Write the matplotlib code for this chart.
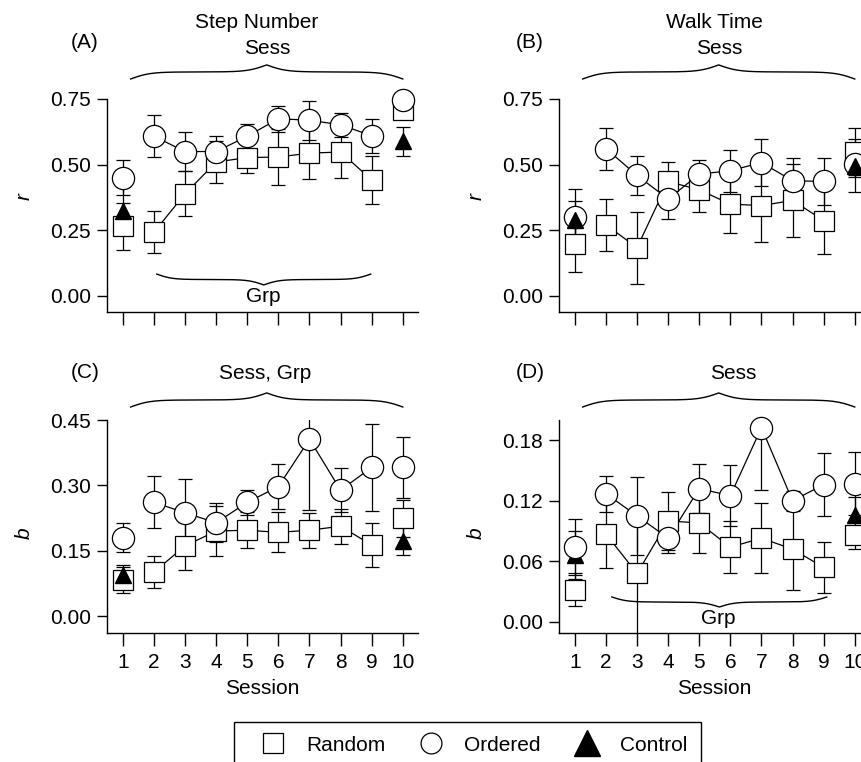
"""Four-panel session plot: r and b for step number / walk time,
Random vs Ordered groups with Control at sessions 1 and 10."""

import matplotlib
matplotlib.use("Agg")
import matplotlib.pyplot as plt
import numpy as np
from matplotlib.lines import Line2D

plt.rcParams["font.family"] = ["Liberation Sans", "DejaVu Sans"]
plt.rcParams["font.size"] = 15

sessions = np.arange(1, 11)
ctl_sessions = np.array([1, 10])

# (A) step number, r
step_r_rnd = [0.265, 0.243, 0.389, 0.51, 0.527, 0.529, 0.544, 0.548, 0.442, 0.709]
step_r_rnd_se = [0.09, 0.08, 0.085, 0.08, 0.06, 0.105, 0.10, 0.10, 0.09, 0.03]
step_r_ord = [0.451, 0.608, 0.550, 0.55, 0.608, 0.675, 0.669, 0.652, 0.61, 0.747]
step_r_ord_se = [0.065, 0.08, 0.075, 0.06, 0.045, 0.05, 0.075, 0.045, 0.065, 0.03]
step_r_ctl = [0.325, 0.589]
step_r_ctl_se = [0.09, 0.055]

# (B) walk time, r
walk_r_rnd = [0.197, 0.271, 0.184, 0.436, 0.404, 0.35, 0.344, 0.364, 0.287, 0.55]
walk_r_rnd_se = [0.105, 0.10, 0.137, 0.075, 0.085, 0.11, 0.14, 0.14, 0.127, 0.09]
walk_r_ord = [0.301, 0.561, 0.459, 0.369, 0.464, 0.477, 0.508, 0.439, 0.436, 0.502]
walk_r_ord_se = [0.105, 0.08, 0.075, 0.075, 0.055, 0.08, 0.09, 0.085, 0.09, 0.05]
walk_r_ctl = [0.29, 0.496]
walk_r_ctl_se = [0.07, 0.10]

# (C) step number, b
step_b_rnd = [0.082, 0.101, 0.161, 0.195, 0.197, 0.192, 0.197, 0.206, 0.163, 0.224]
step_b_rnd_se = [0.03, 0.037, 0.055, 0.057, 0.042, 0.046, 0.04, 0.04, 0.05, 0.043]
step_b_ord = [0.180, 0.261, 0.237, 0.214, 0.261, 0.297, 0.406, 0.289, 0.341, 0.341]
step_b_ord_se = [0.033, 0.06, 0.078, 0.045, 0.028, 0.052, 0.163, 0.05, 0.10, 0.071]
step_b_ctl = [0.094, 0.172]
step_b_ctl_se = [0.022, 0.033]

# (D) walk time, b
walk_b_rnd = [0.032, 0.087, 0.048, 0.100, 0.098, 0.074, 0.083, 0.072, 0.054, 0.086]
walk_b_rnd_se = [0.016, 0.034, 0.06, 0.029, 0.03, 0.026, 0.035, 0.04, 0.025, 0.014]
walk_b_ord = [0.074, 0.127, 0.105, 0.083, 0.132, 0.125, 0.1925, 0.120, 0.136, 0.137]
walk_b_ord_se = [0.028, 0.018, 0.039, 0.015, 0.024, 0.03, 0.062, 0.01, 0.031, 0.031]
walk_b_ctl = [0.066, 0.106]
walk_b_ctl_se = [0.024, 0.018]

r_ticks = [0.0, 0.25, 0.5, 0.75]
step_b_ticks = [0.0, 0.15, 0.30, 0.45]
walk_b_ticks = [0.0, 0.06, 0.12, 0.18]

LW = 0.9
W, H = 861, 762


def brace(ax, x0, x1, y_end, h, beta=14.0):
    """Curly brace between x0..x1 (data), y in axes fraction; h>0 points up."""
    u = np.linspace(0, 1, 200)
    half = 1 / (1 + np.exp(-beta * u)) + 1 / (1 + np.exp(-beta * (u - 1))) - 0.5
    half = (half - half[0]) / (half[-1] - half[0])
    shape = np.concatenate([half, half[-2::-1]])
    xs = np.linspace(x0, x1, len(shape))
    ax.plot(xs, y_end + h * shape, color="k", lw=1.0,
            transform=ax.get_xaxis_transform(), clip_on=False)


def panel(ax, rnd, rnd_se, ordd, ord_se, ctl, ctl_se, ylim, yticks, ylabel, ylab_y,
          xlabels, ctl_z=5):
    rnd, ordd = np.asarray(rnd), np.asarray(ordd)
    ek = dict(fmt="none", ecolor="k", elinewidth=LW, capsize=4.7, capthick=LW, zorder=1)
    ax.errorbar(sessions, rnd, yerr=rnd_se, **ek)
    ax.errorbar(sessions, ordd, yerr=ord_se, **ek)
    ax.errorbar(ctl_sessions, ctl, yerr=ctl_se, **ek)

    # sessions 2-9 are joined, 1 and 10 stand alone
    ax.plot(sessions[1:9], rnd[1:9], color="k", lw=LW, zorder=2)
    ax.plot(sessions[1:9], ordd[1:9], color="k", lw=LW, zorder=2)
    ax.plot(sessions, rnd, ls="none", marker="s", ms=14, mfc="white", mec="k",
            mew=LW, zorder=3, clip_on=False)
    ax.plot(sessions, ordd, ls="none", marker="o", ms=16, mfc="white", mec="k",
            mew=LW, zorder=4, clip_on=False)
    ax.plot(ctl_sessions, ctl, ls="none", marker="^", ms=11, mfc="k", mec="k",
            zorder=ctl_z, clip_on=False)

    ax.set_xlim(0.49, 10.49)
    ax.set_ylim(*ylim)
    ax.set_xticks(sessions)
    ax.set_yticks(yticks)
    ax.set_yticklabels([f"{t:.2f}" for t in yticks])
    if xlabels:
        ax.set_xlabel("Session", labelpad=5)
    else:
        ax.set_xticklabels([])
    ax.spines[["top", "right"]].set_visible(False)
    for s in ("left", "bottom"):
        ax.spines[s].set_linewidth(1.0)
    ax.tick_params(axis="x", length=9.5, width=1.0, pad=5, labelsize=15)
    ax.tick_params(axis="y", length=7.5, width=1.0, pad=4, labelsize=15)
    ax.set_ylabel(ylabel, fontstyle="italic")
    ax.yaxis.set_label_coords(-0.235, ylab_y)


fig = plt.figure(figsize=(W / 100, H / 100), dpi=100)
aw, ah = 311 / W, 213 / H
axA = fig.add_axes([107 / W, (H - 312) / H, aw, ah])
axB = fig.add_axes([559 / W, (H - 312) / H, aw, ah])
axC = fig.add_axes([107 / W, (H - 633) / H, aw, ah])
axD = fig.add_axes([559 / W, (H - 633) / H, aw, ah])

panel(axA, step_r_rnd, step_r_rnd_se, step_r_ord, step_r_ord_se, step_r_ctl,
      step_r_ctl_se, (-0.061, 0.75), r_ticks, "r", 0.54, False)
panel(axB, walk_r_rnd, walk_r_rnd_se, walk_r_ord, walk_r_ord_se, walk_r_ctl,
      walk_r_ctl_se, (-0.061, 0.75), r_ticks, "r", 0.54, False)
panel(axC, step_b_rnd, step_b_rnd_se, step_b_ord, step_b_ord_se, step_b_ctl,
      step_b_ctl_se, (-0.039, 0.45), step_b_ticks, "b", 0.47, True)
panel(axD, walk_b_rnd, walk_b_rnd_se, walk_b_ord, walk_b_ord_se, walk_b_ctl,
      walk_b_ctl_se, (-0.011, 0.20), walk_b_ticks, "b", 0.47, True, ctl_z=3.5)

# top row: measure title + effect label over a brace
for ax, title, lx in ((axA, "Step Number", 5.3), (axB, "Walk Time", 5.5)):
    brace(ax, 1.25, 10.0, 1.094, 0.066)
    ax.text(5.63, 1.239, "Sess", ha="center", va="center",
            transform=ax.get_xaxis_transform())
    ax.text(lx, 1.357, title, ha="center", va="center",
            transform=ax.get_xaxis_transform())
axA.text(-0.22, 1.263, "(A)", ha="center", va="center", transform=axA.get_xaxis_transform())
axB.text(-0.45, 1.263, "(B)", ha="center", va="center", transform=axB.get_xaxis_transform())

# bottom row
brace(axC, 1.25, 10.0, 1.061, 0.066)
axC.text(5.57, 1.216, "Sess, Grp", ha="center", va="center",
         transform=axC.get_xaxis_transform())
axC.text(-0.22, 1.221, "(C)", ha="center", va="center", transform=axC.get_xaxis_transform())
brace(axD, 1.25, 10.0, 1.061, 0.066)
axD.text(6.08, 1.216, "Sess", ha="center", va="center",
         transform=axD.get_xaxis_transform())
axD.text(-0.45, 1.221, "(D)", ha="center", va="center", transform=axD.get_xaxis_transform())

# group-effect braces inside the axes (pointing down)
brace(axA, 2.09, 8.97, 0.178, -0.051)
axA.text(5.5, 0.075, "Grp", ha="center", va="center", transform=axA.get_xaxis_transform())
brace(axD, 2.19, 9.1, 0.169, -0.047)
axD.text(5.6, 0.070, "Grp", ha="center", va="center", transform=axD.get_xaxis_transform())

handles = [
    Line2D([], [], ls="none", marker="s", ms=15, mfc="white", mec="k", mew=LW, label="Random"),
    Line2D([], [], ls="none", marker="o", ms=15, mfc="white", mec="k", mew=LW, label="Ordered"),
    Line2D([], [], ls="none", marker="^", ms=19, mfc="k", mec="k", label="Control"),
]
leg = fig.legend(handles=handles, loc="upper left", bbox_to_anchor=(234 / W, (H - 722) / H),
                 ncol=3, frameon=True, fancybox=False, framealpha=1, edgecolor="k",
                 fontsize=15, handlelength=2.4, handletextpad=0.4, columnspacing=1.0,
                 borderpad=0.65, borderaxespad=0)
leg.get_frame().set_linewidth(1.0)

fig.savefig("out.png", dpi=100)
